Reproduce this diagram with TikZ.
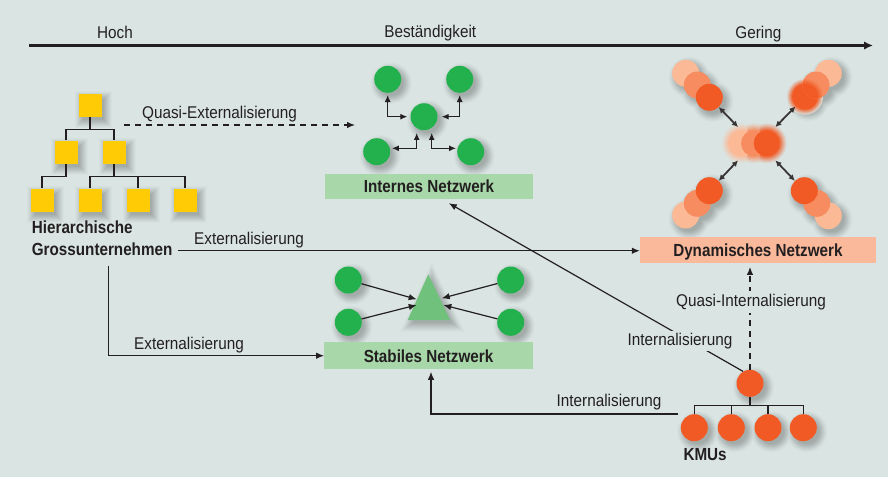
\documentclass[tikz,border=0pt]{standalone}
\usepackage{fontspec}
\setmainfont{Liberation Sans}
\newfontfamily\labelfont{Liberation Sans}[FakeStretch=0.9]
\newfontfamily\titlefont{Liberation Sans}[FakeStretch=0.87]
\usetikzlibrary{arrows.meta,calc}

\definecolor{bgc}{RGB}{218,229,227}
\definecolor{inkc}{RGB}{35,31,32}
\definecolor{leafgreen}{RGB}{35,177,77}
\definecolor{trigreen}{RGB}{112,193,124}
\definecolor{boxgreen}{RGB}{168,216,170}
\definecolor{boxsalmon}{RGB}{250,185,155}
\definecolor{orD}{RGB}{241,90,36}
\definecolor{orM}{RGB}{246,140,95}
\definecolor{orL}{RGB}{251,185,150}
\definecolor{gold}{RGB}{255,203,5}
% shadow tones, from the outer rim to the core
\definecolor{shA}{RGB}{214,224,222}
\definecolor{shB}{RGB}{209,220,218}
\definecolor{shC}{RGB}{203,213,211}
\definecolor{shD}{RGB}{196,206,204}
\definecolor{shE}{RGB}{190,199,197}
\definecolor{shF}{RGB}{183,192,191}
\definecolor{shG}{RGB}{177,185,184}
\definecolor{shH}{RGB}{170,179,177}
\definecolor{shI}{RGB}{164,172,170}

% one ring of the soft drop shadows: #1 = growth in pt beyond the core, #2 = tone
\newcommand\shadowlevel[2]{%
  \foreach \px/\py in {424/116.7,387.7/79.3,459.7/79.3,376.7/151.7,470.7/151.7,
                  348.3/280,348.3/322.3,510.7/280,510.7/322.3,
                  685.7/73.3,697.3/85,709.3/97.3,828.3/73.3,816/85,805/96.7,
                  685.7/215,697.3/203.3,709.3/190.7,
                  828.3/215.7,816.7/203.3,804.3/190.7,
                  750/383.3,694.3/427.7,731.3/427.7,768/427.7,803.3/427.7}
    {\fill[#2] (\px+3.5,\py+4) circle[radius={(12.5+#1)*1pt}];}%
  \foreach \px/\py in {90/105.5,66/152,114/152,42/200,90/200,138/200,185/200}
    {\fill[#2] (\px-7-#1,\py-6.5-#1) rectangle (\px+14+#1,\py+14.5+#1);}%
  \fill[#2, shift={(432.2,308.9)}, scale={(12.5+#1)/13.5}] (-0.4,-30.6) -- (21.3,15.1) -- (-21,15.1) -- cycle;%
}

\begin{document}
\begin{tikzpicture}[x=1pt,y=-1pt,
  lbl/.style={font=\labelfont\fontsize{17}{20}\selectfont, text=inkc, inner sep=0pt},
  ttl/.style={font=\titlefont\bfseries\fontsize{17.5}{21}\selectfont, text=inkc, inner sep=0pt},
  netbox/.style={ttl, rectangle, text height=12.6pt, text depth=0pt},
  sq/.style={rectangle, fill=gold, minimum size=23pt, inner sep=0pt},
  gdot/.style={circle, fill=leafgreen, minimum size=27pt, inner sep=0pt},
  odot/.style={circle, fill=#1, minimum size=27pt, inner sep=0pt},
  anchorring/.style={circle, minimum size=27pt, inner sep=0pt},
  conn/.style={draw=inkc, line width=1.2pt},
  tree/.style={draw=inkc, line width=1.3pt},
  arrowend/.style={-{Latex[length=8pt,width=6.5pt]}},
  dbl/.style={conn, {Latex[length=7pt,width=6pt]}-{Latex[length=7pt,width=6pt]}},
  dynarrow/.style={draw=inkc!90, line width=1.8pt, {Latex[length=6pt,width=6pt]}-{Latex[length=6pt,width=6pt]}},
  dashline/.style={dash pattern=on 6pt off 5pt}
]
\useasboundingbox (0,0) rectangle (888,477);
\fill[bgc] (0,0) rectangle (888,477);

% ---------- persistence axis ----------
\coordinate (ax0) at (29,45.5);
\coordinate (ax1) at (873,45.5);
\draw[draw=inkc, line width=2.3pt, -{Latex[length=9pt,width=8.5pt]}] (ax0) -- (ax1);
\node[lbl, anchor=base] (thoch) at (115,38.3) {Hoch};
\node[lbl, anchor=base] (tbest) at (430.3,37.7) {Beständigkeit};
\node[lbl, anchor=base] (tger) at (758.3,38.3) {Gering};

% ---------- soft drop shadows, built up in rings from light to dark ----------
\shadowlevel{8}{shA}
\shadowlevel{7}{shB}
\shadowlevel{6}{shC}
\shadowlevel{5}{shD}
\shadowlevel{4}{shE}
\shadowlevel{3}{shF}
\shadowlevel{2}{shG}
\shadowlevel{1}{shH}
\shadowlevel{0}{shI}

% ---------- hierarchical corporation ----------
\node[sq] (h0) at (90,105.5) {};
\node[sq] (h1) at (66,152) {};
\node[sq] (h2) at (114,152) {};
\node[sq] (h3) at (42,200) {};
\node[sq] (h4) at (90,200) {};
\node[sq] (h5) at (138,200) {};
\node[sq] (h6) at (185,200) {};
\coordinate (ha) at ($(h0.south)+(0,12.5)$);
\coordinate (hb) at ($(h2.south)+(0,12.5)$);
\coordinate (hc) at ($(h1.south)+(0,12.5)$);
\draw[tree] (h0.south) -- (ha);
\draw[tree] (h1.north) |- (ha) -| (h2.north);
\draw[tree] (h1.south) |- (h3.north |- hc) -- (h3.north);
\draw[tree] (h2.south) -- (hb);
\draw[tree] (h4.north) |- (hb) -| (h6.north);
\draw[tree] (h5.north) -- (h5.north |- hb);
\node[ttl, anchor=base west] (gu1) at (31.7,233.3) {Hierarchische};
\node[ttl, anchor=base west] (gu2) at (31.7,255.5) {Grossunternehmen};

% ---------- internal network ----------
\node[gdot] (c0) at (424,116.7) {};
\node[gdot] (c1) at (387.7,79.3) {};
\node[gdot] (c2) at (459.7,79.3) {};
\node[gdot] (c3) at (376.7,151.7) {};
\node[gdot] (c4) at (470.7,151.7) {};
\draw[dbl, shorten <=2pt, shorten >=3pt] (c1.south) |- (c0.west);
\draw[dbl, shorten <=2pt, shorten >=4pt] (c2.south) |- (c0.east);
\draw[dbl, shorten <=2.5pt, shorten >=1.5pt] ([xshift=-7.3pt]c0.south) |- ([yshift=3.4pt]c3.east);
\draw[dbl, shorten <=2.5pt, shorten >=1pt] ([xshift=7.7pt]c0.south) |- ([yshift=3.4pt]c4.west);
\node[netbox, fill=boxgreen, minimum width=208pt, minimum height=25pt] (inw) at (429,186.5) {Internes Netzwerk};

% ---------- stable network ----------
\fill[trigreen] (428.3,274.3) -- (450,320) -- (407.7,320) -- cycle;
\coordinate (ta) at (416.7,299.3);
\coordinate (tb) at (416.7,305);
\coordinate (tc) at (441.7,298.3);
\coordinate (td) at (443.3,305);
\node[gdot] (s1) at (348.3,280) {};
\node[gdot] (s2) at (348.3,322.3) {};
\node[gdot] (s3) at (510.7,280) {};
\node[gdot] (s4) at (510.7,322.3) {};
\draw[conn, arrowend] (s1) -- (ta);
\draw[conn, arrowend] (s2) -- (tb);
\draw[conn, arrowend] (s3) -- (tc);
\draw[conn, arrowend] (s4) -- (td);
\node[netbox, fill=boxgreen, minimum width=208.4pt, minimum height=26.7pt] (stb) at (428.5,355.7) {Stabiles Netzwerk};

% ---------- dynamic network ----------
% upper left arm
\node[odot=orL] (a3) at (685.7,73.3) {};
\node[odot=orM] (a2) at (697.3,85) {};
\node[odot=orD] (dA) at (709.3,97.3) {};
% upper right arm, its inner dot out of focus
\node[odot=orL] (b3) at (828.3,73.3) {};
\node[odot=orM] (b2) at (816,85) {};
\begin{scope}[even odd rule]
  \clip (0,0) rectangle (888,477) (b2.center) circle (13.5pt);
  \foreach \rr/\tt in {18/12,17/28,16/45,15/62,14/80,13/100}
    \fill[orD!\tt!bgc] (805,96.7) circle (\rr pt);
\end{scope}
\begin{scope}
  \clip (b2.center) circle (13.5pt);
  \foreach \rr/\tt in {18/12,17/28,16/45,15/62,14/80,13/100}
    \fill[orD!\tt!orM] (805,96.7) circle (\rr pt);
\end{scope}
\node[anchorring] (dB) at (805,96.7) {};
% lower left arm
\node[odot=orL] (e3) at (685.7,215) {};
\node[odot=orM] (e2) at (697.3,203.3) {};
\node[odot=orD] (dC) at (709.3,190.7) {};
% lower right arm
\node[odot=orL] (f3) at (828.3,215.7) {};
\node[odot=orM] (f2) at (816.7,203.3) {};
\node[odot=orD] (dD) at (804.3,190.7) {};
% out-of-focus hub
\foreach \rr/\tt in {20/10,19/20,18/32,17/45,16/58,15/72,14/86,13/100}
  \foreach \x/\c in {741.7/orL,754/orM,766.7/orD}
    \fill[\c!\tt!bgc] (\x,143.3) circle (\rr pt);
\node[rectangle, minimum width=37pt, minimum height=33pt, inner sep=0pt] (dc) at (756.7,143.7) {};
\draw[dynarrow] (dc.north west) -- (dA);
\draw[dynarrow] (dc.north east) -- (dB);
\draw[dynarrow] (dc.south west) -- (dC);
\draw[dynarrow] (dc.south east) -- (dD);
\node[netbox, fill=boxsalmon, minimum width=235.7pt, minimum height=25.4pt] (dn) at (757.9,250) {Dynamisches Netzwerk};

% ---------- SMEs ----------
\node[odot=orD] (kt) at (750,383.3) {};
\node[odot=orD] (k1) at (694.3,427.7) {};
\node[odot=orD] (k2) at (731.3,427.7) {};
\node[odot=orD] (k3) at (768,427.7) {};
\node[odot=orD] (k4) at (803.3,427.7) {};
\coordinate (kb) at ($(kt.south)+(0,8.5)$);
\draw[tree] (kt.south) -- (kb);
\draw[tree] (k1.north) |- (kb) -| (k4.north);
\draw[tree] (k2.north) -- (k2.north |- kb);
\draw[tree] (k3.north) -- (k3.north |- kb);
\node[ttl, anchor=base west] (kmu) at (683.3,460) {KMUs};

% ---------- transitions ----------
\coordinate (qx0) at (124,125);
\coordinate (qx1) at (355,125);
\draw[conn, dashline, arrowend] (qx0) -- (qx1);
\node[lbl, anchor=base] (lqe) at (219.5,118.3) {Quasi-Externalisierung};

\draw[conn, arrowend, shorten <=5pt] ([yshift=-1.5pt]gu2.east) -- ([yshift=-1.5pt]gu2.east -| dn.west);
\node[lbl, anchor=base] (lex1) at (249,244.3) {Externalisierung};

\draw[conn, arrowend] ($(gu2.south west)!0.547!(gu2.south east)+(0,10)$) |- (stb.west);
\node[lbl, anchor=base] (lex2) at (189,349.3) {Externalisierung};

\draw[conn, arrowend] (kt.120) -- ($(inw.south west)!0.595!(inw.south east)+(0,4)$);
\node[lbl, anchor=base, fill=bgc, inner sep=2pt] (lin1) at (680,345) {Internalisierung};

\draw[conn, arrowend, shorten >=2.5pt] ([xshift=-16pt]k1.north) -| ([xshift=2.5pt]stb.south);
\node[lbl, anchor=base] (lin2) at (609,406.7) {Internalisierung};

\draw[conn, dashline, arrowend, shorten >=4pt] (kt.north) -- (kt.north |- dn.south);
\node[lbl, anchor=base, fill=bgc, inner sep=3pt] (lqi) at (751,306.7) {Quasi-Internalisierung};
\end{tikzpicture}
\end{document}
